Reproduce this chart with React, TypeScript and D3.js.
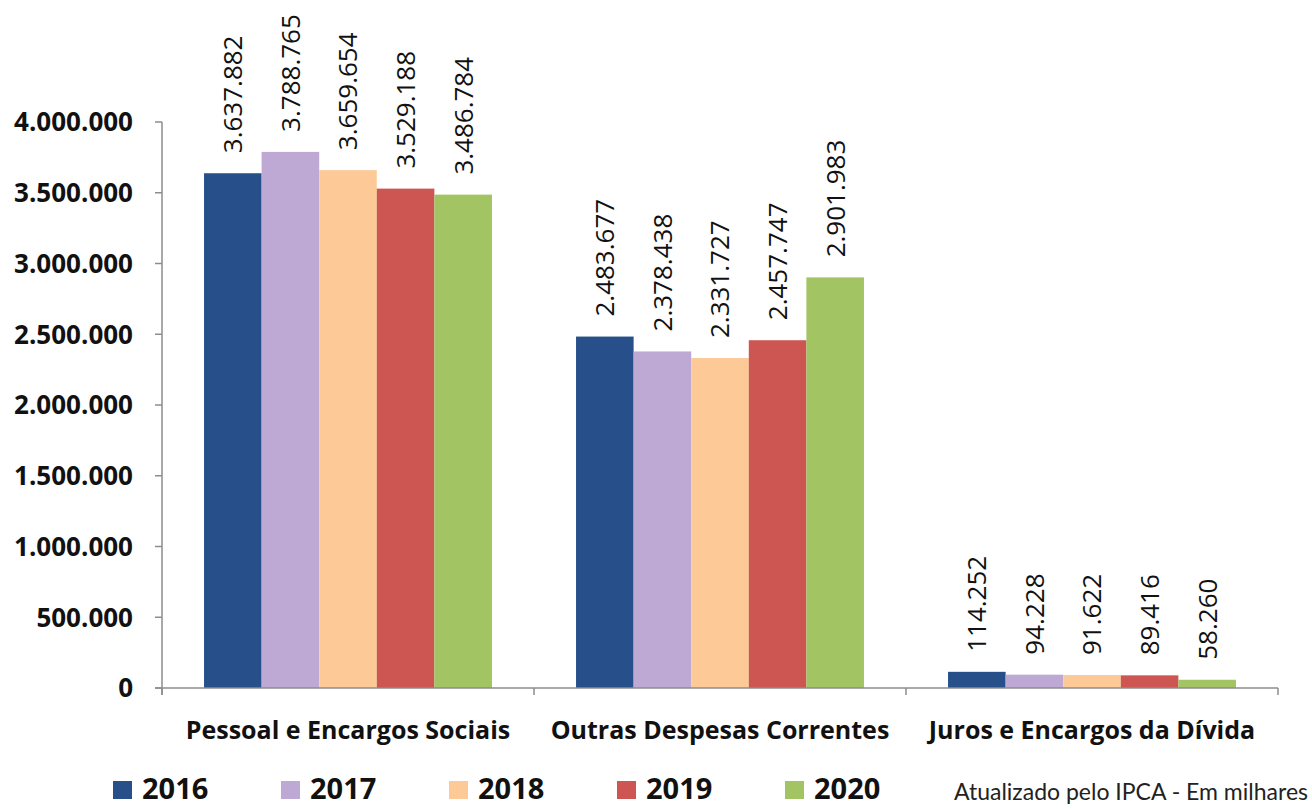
import React, { useEffect, useRef } from 'react';
import * as d3 from 'd3';

const categories = ['Pessoal e Encargos Sociais', 'Outras Despesas Correntes', 'Juros e Encargos da Dívida'];
const years = ['2016', '2017', '2018', '2019', '2020'];
const colors = ['#27508A', '#BDA9D4', '#FDC996', '#CD5653', '#A3C462'];

// valores por ano, na ordem das categorias
const values2016 = [3637882, 2483677, 114252];
const values2017 = [3788765, 2378438, 94228];
const values2018 = [3659654, 2331727, 91622];
const values2019 = [3529188, 2457747, 89416];
const values2020 = [3486784, 2901983, 58260];
const series = [values2016, values2017, values2018, values2019, values2020];

const yTicks = [0, 500000, 1000000, 1500000, 2000000, 2500000, 3000000, 3500000, 4000000];
const note = 'Atualizado pelo IPCA - Em milhares';

const fmt = (v: number) => d3.format(',')(v).replace(/,/g, '.');

const App: React.FC = () => {
  const svgRef = useRef<SVGSVGElement>(null);

  useEffect(() => {
    document.body.style.margin = '0';
    if (!svgRef.current) return;
    const svg = d3.select(svgRef.current);
    svg.selectAll('*').remove();

    const width = 1312;
    const height = 809;
    const margin = { top: 122, right: 34, bottom: 120, left: 162 };

    const x0 = d3.scaleBand<string>()
      .domain(categories)
      .range([margin.left, width - margin.right]);
    const bw = x0.bandwidth();
    const x1 = d3.scaleBand<string>()
      .domain(years)
      .range([bw * 0.113, bw * 0.887]);

    const y = d3.scaleLinear()
      .domain([0, 4000000])
      .range([height - margin.bottom - 1, margin.top]);

    const axisColor = '#8c8c8c';
    const boldFont = "'Open Sans', sans-serif";

    // bars
    years.forEach((yr, si) => {
      const g = svg.append('g');
      g.selectAll('rect')
        .data(series[si])
        .join('rect')
        .attr('x', (d, i) => x0(categories[i])! + x1(yr)!)
        .attr('y', d => y(d))
        .attr('width', x1.bandwidth())
        .attr('height', d => y(0) - y(d))
        .attr('fill', colors[si]);

      g.selectAll('text')
        .data(series[si])
        .join('text')
        .attr('transform', (d, i) => {
          const cx = x0(categories[i])! + x1(yr)! + x1.bandwidth() / 2;
          return `translate(${cx},${y(d) - 20}) rotate(-90)`;
        })
        .attr('dy', '0.36em')
        .attr('font-family', "'Open Sans', sans-serif")
        .attr('font-size', 26)
        .attr('fill', '#111')
        .text(d => fmt(d));
    });

    // y axis
    const yAxis = svg.append('g');
    yAxis.append('line')
      .attr('x1', margin.left).attr('x2', margin.left)
      .attr('y1', y(4000000)).attr('y2', y(0) + 7)
      .attr('stroke', axisColor).attr('stroke-width', 1.5);
    yAxis.selectAll('line.tick')
      .data(yTicks)
      .join('line')
      .attr('class', 'tick')
      .attr('x1', margin.left - 7).attr('x2', margin.left)
      .attr('y1', d => y(d)).attr('y2', d => y(d))
      .attr('stroke', axisColor).attr('stroke-width', 1.5);
    yAxis.selectAll('text')
      .data(yTicks)
      .join('text')
      .attr('x', 133)
      .attr('y', d => y(d))
      .attr('dy', '0.36em')
      .attr('text-anchor', 'end')
      .attr('font-family', boldFont)
      .attr('font-weight', 700)
      .attr('font-size', 26)
      .attr('fill', '#111')
      .text(d => fmt(d));

    // x axis
    const xAxis = svg.append('g');
    xAxis.append('line')
      .attr('x1', margin.left - 7).attr('x2', width - margin.right)
      .attr('y1', y(0)).attr('y2', y(0))
      .attr('stroke', axisColor).attr('stroke-width', 1.5);
    const bounds = [...categories.map(c => x0(c)!), width - margin.right];
    xAxis.selectAll('line.tick')
      .data(bounds)
      .join('line')
      .attr('class', 'tick')
      .attr('x1', d => d).attr('x2', d => d)
      .attr('y1', y(0)).attr('y2', y(0) + 7)
      .attr('stroke', axisColor).attr('stroke-width', 1.5);
    xAxis.selectAll('text')
      .data(categories)
      .join('text')
      .attr('x', d => x0(d)! + bw / 2)
      .attr('y', 739)
      .attr('text-anchor', 'middle')
      .attr('font-family', boldFont)
      .attr('font-weight', 700)
      .attr('font-size', 25)
      .attr('fill', '#111')
      .text(d => d);

    // legend
    const legendX = d3.scaleBand<string>().domain(years).range([113, 953]);
    const leg = svg.append('g');
    years.forEach((yr, i) => {
      const lx = legendX(yr)!;
      leg.append('rect')
        .attr('x', lx).attr('y', 781)
        .attr('width', 19).attr('height', 18)
        .attr('fill', colors[i]);
      leg.append('text')
        .attr('x', lx + 29).attr('y', 799)
        .attr('font-family', boldFont)
        .attr('font-weight', 700)
        .attr('font-size', 29)
        .attr('fill', '#111')
        .text(yr);
    });

    svg.append('text')
      .attr('x', 1308).attr('y', 800)
      .attr('text-anchor', 'end')
      .attr('font-family', "'Lato', sans-serif")
      .attr('font-size', 23)
      .attr('fill', '#222')
      .text(note);
  }, []);

  return (
    <svg ref={svgRef} width={1312} height={809} style={{ display: 'block', background: '#fff' }} />
  );
};

export default App;
